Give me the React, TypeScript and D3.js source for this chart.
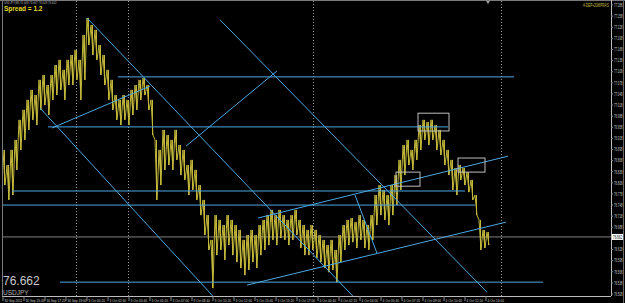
import React from "react";
import * as d3 from "d3";

const W = 625;
const H = 303;

// Bar highs / lows (USDJPY, M5)
const highs = [
  76.897, 76.856, 76.897, 76.924, 76.978, 77.005, 77.032, 77.059, 77.045, 77.086,
  77.099, 77.072, 77.099, 77.126, 77.140, 77.113, 77.140, 77.153, 77.167, 77.140,
  77.207, 77.253, 77.234, 77.221, 77.180, 77.153, 77.113, 77.086, 77.045, 77.032,
  77.045, 77.032, 77.059, 77.072, 77.086, 77.091, 77.072, 77.032, 76.924, 76.897,
  76.951, 76.937, 76.924, 76.951, 76.910, 76.897, 76.856, 76.870, 76.843, 76.802,
  76.762, 76.721, 76.654, 76.721, 76.708, 76.694, 76.721, 76.708, 76.694, 76.681,
  76.654, 76.667, 76.681, 76.667, 76.694, 76.708, 76.721, 76.735, 76.721, 76.735,
  76.721, 76.708, 76.721, 76.735, 76.708, 76.694, 76.681, 76.694, 76.681, 76.667,
  76.654, 76.640, 76.654, 76.627, 76.667, 76.694, 76.708, 76.713, 76.702, 76.721,
  76.708, 76.694, 76.721, 76.775, 76.802, 76.789, 76.775, 76.802, 76.829, 76.870,
  76.910, 76.924, 76.897, 76.924, 76.964, 76.978, 76.972, 76.978, 76.964, 76.951,
  76.924, 76.897, 76.870, 76.848, 76.856, 76.848, 76.837, 76.816, 76.775, 76.708,
  76.681, 76.675,
];
const lows = [
  76.802, 76.762, 76.775, 76.843, 76.897, 76.924, 76.951, 76.978, 76.964, 77.005,
  77.018, 76.991, 77.032, 77.045, 77.059, 77.032, 77.072, 77.072, 77.086, 77.032,
  77.086, 77.180, 77.153, 77.140, 77.099, 77.072, 77.032, 77.005, 76.978, 76.964,
  76.978, 76.964, 76.991, 77.005, 77.032, 77.045, 77.005, 76.937, 76.762, 76.802,
  76.843, 76.856, 76.843, 76.870, 76.829, 76.816, 76.775, 76.789, 76.762, 76.721,
  76.667, 76.627, 76.524, 76.613, 76.627, 76.600, 76.640, 76.613, 76.594, 76.578,
  76.559, 76.573, 76.594, 76.578, 76.613, 76.627, 76.640, 76.654, 76.640, 76.659,
  76.654, 76.640, 76.654, 76.667, 76.632, 76.613, 76.613, 76.627, 76.605, 76.594,
  76.578, 76.567, 76.573, 76.540, 76.594, 76.627, 76.640, 76.648, 76.632, 76.654,
  76.632, 76.627, 76.654, 76.694, 76.721, 76.708, 76.694, 76.721, 76.748, 76.789,
  76.829, 76.856, 76.843, 76.870, 76.897, 76.924, 76.910, 76.924, 76.897, 76.883,
  76.856, 76.829, 76.789, 76.775, 76.816, 76.802, 76.783, 76.762, 76.721, 76.627,
  76.632, 76.640,
];
const lastPrice = 76.662;
const lastPriceLabel = "76.662";
const symbol = "USDJPY";
const headerText = "USDJPY,M5  76.658 76.667 76.649 76.662";
const spreadText = "Spread = 1.2";
const cornerText = "4-DEP+20MPRAS";

// Price axis tick labels
const priceTicks = [
  "77.288", "77.258", "77.228", "77.198", "77.168", "77.138", "77.108", "77.078",
  "77.048", "77.018", "76.988", "76.958", "76.928", "76.898", "76.868", "76.838",
  "76.808", "76.778", "76.748", "76.718", "76.688", "76.658", "76.628", "76.598",
  "76.568", "76.538", "76.508",
];

// Time axis labels
const timeLabels = [
  "30 Sep 2011", "30 Sep 15:40", "30 Sep 17:20", "30 Sep 19:00",
  "3 Oct 00:20", "3 Oct 02:00", "3 Oct 03:40", "3 Oct 05:20", "3 Oct 07:00",
  "3 Oct 08:40", "3 Oct 10:20", "3 Oct 12:00", "3 Oct 13:40", "3 Oct 15:20",
  "3 Oct 17:00", "4 Oct 00:40", "4 Oct 02:20", "4 Oct 04:00", "4 Oct 05:40",
  "4 Oct 07:20", "4 Oct 09:00", "4 Oct 10:40", "4 Oct 12:20", "4 Oct 14:00",
];

// Period separators (bar index)
const separatorBars = [18, 31, 77.25, 124.25];

// Horizontal lines: fromBar, toBar, price
const hLineFrom = [28.5, 11, 2, -0.25, 14];
const hLineTo = [127.5, 111, 115.25, 117.75, 134.75];
const hLinePrice = [77.094, 76.959, 76.786, 76.748, 76.54];

// Trend lines: bar1, price1, bar2, price2
const trendBar1 = [9, 20.75, 54, 12, 45.5, 63.5, 60.75, 87.75];
const trendPrice1 = [77.01, 77.253, 77.248, 76.956, 76.907, 76.713, 76.532, 76.775];
const trendBar2 = [52.25, 87.25, 120.75, 36.5, 68.25, 126, 125.5, 93.25];
const trendPrice2 = [76.502, 76.502, 76.513, 77.069, 77.11, 76.88, 76.702, 76.618];

// Rectangles: bar range and price range
const rectBar1 = [103.5, 98, 113.5];
const rectBar2 = [111.25, 104, 120.25];
const rectPriceTop = [76.996, 76.837, 76.875];
const rectPriceBottom = [76.948, 76.799, 76.837];

export default function App() {
  const plotRight = 611;
  const plotBottom = 296;
  const x = d3.scaleLinear().domain([0, highs.length - 1]).range([4, 488]);
  const y = d3.scaleLinear().domain([76.508, 77.288]).range([294, 5]);
  const xLabel = d3.scaleLinear().domain([0, timeLabels.length - 1]).range([3, 486]);

  // sawtooth through each bar's high then low
  const pts: [number, number][] = [];
  highs.forEach((h, i) => {
    const l = lows[i];
    pts.push([x(i) - 1, y(h)]);
    pts.push([x(i) + 1, y(l)]);
  });
  const pricePath = d3.line()(pts) || "";
  const barsPath = highs
    .map((h, i) => `M${Math.round(x(i)) + 0.5},${y(h)}V${y(lows[i])}`)
    .join("");

  const priceColor = "#c0b63a";
  const lineColor = "#4ca8e2";
  const gridGray = "#8a8a8a";
  const font = "'Liberation Sans', Arial, sans-serif";
  const yLast = y(lastPrice);

  return (
    <svg
      width={W}
      height={H}
      style={{ position: "absolute", left: 0, top: 0, display: "block" }}
    >
      <defs>
        <clipPath id="plot">
          <rect x={2} y={1} width={plotRight - 2} height={plotBottom - 1} />
        </clipPath>
      </defs>
      <rect x={0} y={0} width={W} height={H} fill="#000" />

      <g clipPath="url(#plot)">
        {separatorBars.map((b, i) => (
          <line
            key={"s" + i}
            x1={Math.round(x(b)) + 0.5}
            x2={Math.round(x(b)) + 0.5}
            y1={1}
            y2={plotBottom}
            stroke="#9a9a9a"
            strokeDasharray="1,2"
          />
        ))}
        <line x1={2} x2={plotRight} y1={yLast} y2={yLast} stroke="#808080" strokeWidth={1} />

        <path d={barsPath} fill="none" stroke={priceColor} strokeWidth={1} />
        <path d={pricePath} fill="none" stroke={priceColor} strokeWidth={1} />

        {hLinePrice.map((p, i) => (
          <line
            key={"h" + i}
            x1={x(hLineFrom[i])}
            x2={x(hLineTo[i])}
            y1={y(p)}
            y2={y(p)}
            stroke={lineColor}
            strokeWidth={1}
          />
        ))}
        {trendBar1.map((b, i) => (
          <line
            key={"t" + i}
            x1={x(b)}
            y1={y(trendPrice1[i])}
            x2={x(trendBar2[i])}
            y2={y(trendPrice2[i])}
            stroke={lineColor}
            strokeWidth={1}
          />
        ))}
        {rectBar1.map((b, i) => (
          <rect
            key={"r" + i}
            x={x(b)}
            y={y(rectPriceTop[i])}
            width={x(rectBar2[i]) - x(b)}
            height={y(rectPriceBottom[i]) - y(rectPriceTop[i])}
            fill="none"
            stroke="#bdbdbd"
            strokeWidth={1}
          />
        ))}
      </g>

      {/* frame */}
      <line x1={0} x2={W} y1={0.5} y2={0.5} stroke="#7a7a7a" />
      <line x1={2.5} x2={2.5} y1={0} y2={plotBottom} stroke="#7a7a7a" />
      <line x1={plotRight + 0.5} x2={plotRight + 0.5} y1={0} y2={plotBottom} stroke="#bdbdbd" />
      <line x1={2} x2={plotRight} y1={plotBottom + 0.5} y2={plotBottom + 0.5} stroke="#bdbdbd" />
      <line x1={623.5} x2={623.5} y1={0} y2={H} stroke="#6a6a6a" />

      {/* header */}
      <text transform="translate(4,3.8) scale(0.7,1)" fontSize={4} fill="#b0b0b0" fontFamily={font}>
        {headerText}
      </text>
      <text x={4} y={11} fontSize={6.5} fontWeight="bold" fill="#e6dc28" fontFamily={font}>
        {spreadText}
      </text>
      <text transform="translate(583,7) scale(0.7,1)" fontSize={4.5} fill="#c8c040" fontFamily={font}>
        {cornerText}
      </text>
      <path d={`M ${x(highs.length - 1) - 2} 1 L ${x(highs.length - 1) + 2} 1 L ${x(highs.length - 1)} 4 Z`} fill="#9a9a9a" />

      {/* price axis */}
      {priceTicks.map((t, i) => {
        const yy = y(+t);
        if (Math.abs(yy - yLast) < 7) return null;
        return (
          <g key={"p" + i}>
            <line x1={plotRight} x2={plotRight + 2} y1={yy} y2={yy} stroke={gridGray} />
            <text transform={`translate(614,${yy + 1.8}) scale(0.62,1)`} fontSize={4.5} fill="#c8c8c8" fontFamily={font}>
              {t}
            </text>
          </g>
        );
      })}
      <rect x={plotRight + 1} y={yLast - 3} width={11} height={6} fill="#ffffff" />
      <text transform={`translate(613,${yLast + 1.8}) scale(0.66,1)`} fontSize={4.5} fill="#000" fontFamily={font}>
        {lastPriceLabel}
      </text>

      {/* time axis */}
      {timeLabels.map((t, i) => {
        const xx = xLabel(i);
        return (
          <g key={"tl" + i}>
            <line x1={xx} x2={xx} y1={plotBottom} y2={plotBottom + 5} stroke={gridGray} />
            <text transform={`translate(${xx + 1.5},301.5) scale(0.8,1)`} fontSize={4} fill="#c8c8c8" fontFamily={font}>
              {t}
            </text>
          </g>
        );
      })}

      {/* bottom-left labels */}
      <text x={3} y={285} fontSize={12} fill="#c8c8c8" fontFamily={font}>
        {lastPriceLabel}
      </text>
      <text x={3} y={295} fontSize={6.5} fill="#b0b0b0" fontFamily={font}>
        {symbol}
      </text>
    </svg>
  );
}
